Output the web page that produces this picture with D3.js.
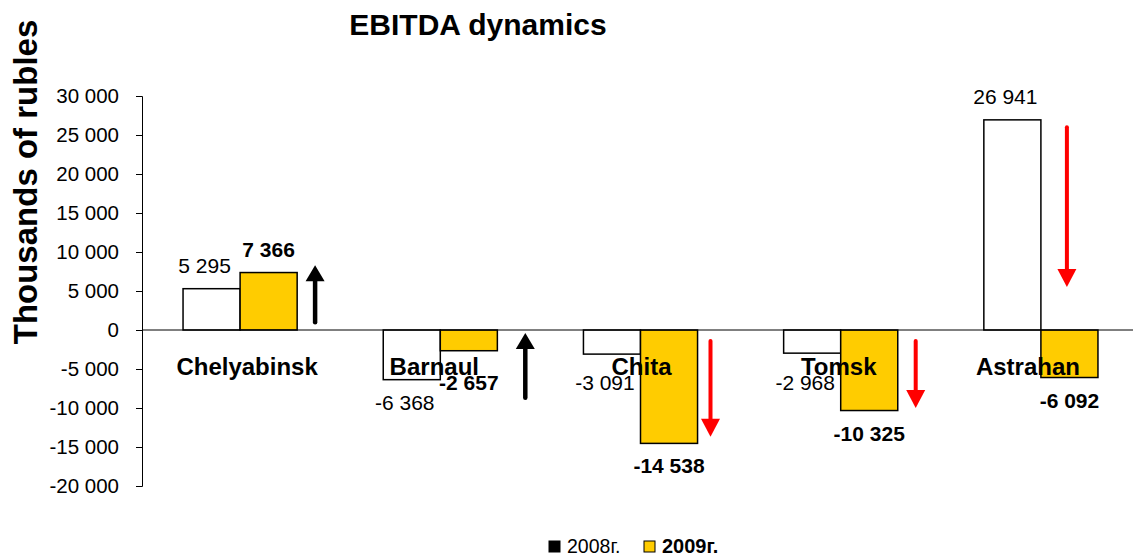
<!DOCTYPE html>
<html><head><meta charset="utf-8">
<script src="https://cdn.jsdelivr.net/npm/d3@7"></script>
<style>body{margin:0;background:#fff}svg{display:block;font-family:"Liberation Sans",Arial,sans-serif}</style>
</head><body><svg id="c" width="1133" height="558"></svg>
<script>
const categories = ["Chelyabinsk","Barnaul","Chita","Tomsk","Astrahan"];
const values2008 = [5295, -6368, -3091, -2968, 26941];
const values2009 = [7366, -2657, -14538, -10325, -6092];
const seriesNames = ["2008г.","2009г."];
const yTicks = [30000,25000,20000,15000,10000,5000,0,-5000,-10000,-15000,-20000];
// change arrows: from / to (thousand rubles), direction colour
const arrowFrom = [1000, -8700, -1400, -1400, 26000];
const arrowTo   = [8300, -400, -13700, -10000, 5500];
const arrowColor = ["#000","#000","#f00","#f00","#f00"];
// layout (pixels, not data)
const arrowDx = [75, 85, 70, 75, 26];
const catLabelDx = [7, -6, 1, -2, -13];

const svg = d3.select("#c");
const W = 1133, H = 558;
const axisX = 142;
const y = d3.scaleLinear().domain([-20000, 30000]).range([486, 96]);
const x0 = d3.scaleBand().domain(categories).range([140, 1141]).paddingInner(0.43).paddingOuter(0.215);
const x1 = d3.scaleBand().domain(seriesNames).range([0, x0.bandwidth()]);
const fmt = v => (v < 0 ? "-" : "") + d3.format(",")(Math.abs(v)).replace(/,/g, " ");

// title
svg.append("text").attr("x", 478).attr("y", 35).attr("text-anchor","middle")
  .attr("font-size", 30).attr("font-weight","bold").text("EBITDA dynamics");
svg.append("text").attr("transform","translate(37,182) rotate(-90)").attr("text-anchor","middle")
  .attr("font-size", 33).attr("font-weight","bold").text("Thousands of rubles");

// axis
const ax = svg.append("g").attr("transform",`translate(${axisX},0)`)
  .call(d3.axisLeft(y).tickValues(yTicks).tickSize(6).tickPadding(17).tickFormat(fmt));
ax.select(".domain").attr("stroke","#000").attr("stroke-width",1);
ax.selectAll(".tick line").attr("stroke","#000");
ax.selectAll(".tick text").attr("font-size",20.5).attr("fill","#000").attr("font-family","Liberation Sans, Arial, sans-serif");

// bars
const data = categories.map((c,i)=>({c, v:[values2008[i], values2009[i]]}));
const fills = ["#fff","#ffcc00"];
const g = svg.append("g");
data.forEach((d,i)=>{
  d.v.forEach((v,j)=>{
    const bx = x0(d.c) + x1(seriesNames[j]);
    g.append("rect").attr("x", bx).attr("width", x1.bandwidth())
      .attr("y", y(Math.max(0,v))).attr("height", Math.abs(y(v)-y(0)))
      .attr("fill", fills[j]).attr("stroke","#000").attr("stroke-width",1.5);
  });
});

// zero line
svg.append("line").attr("x1",axisX).attr("x2",W).attr("y1",y(0)).attr("y2",y(0))
  .attr("stroke","#000").attr("stroke-width",1);

// category labels
svg.append("g").selectAll("text").data(categories).join("text")
  .attr("x", (c,i) => x0(c) + x0.bandwidth()/2 + catLabelDx[i]).attr("y", y(0) + 45)
  .attr("text-anchor","middle").attr("font-size",24).attr("font-weight","bold").text(c=>c);

// value labels
data.forEach((d,i)=>{
  d.v.forEach((v,j)=>{
    const cx = x0(d.c) + x1(seriesNames[j]) + x1.bandwidth()/2 + (j===0 ? -7 : 0);
    const ty = v >= 0 ? y(v) - 16 : Math.max(y(v) + 30, y(0) + 60);
    svg.append("text").attr("x", cx).attr("y", ty).attr("text-anchor","middle")
      .attr("font-size", 21).attr("font-weight", j===0 ? "normal" : "bold")
      .text(fmt(v));
  });
});

// arrows
categories.forEach((c,i)=>{
  const ax_ = x0(c) + x0.bandwidth()/2 + arrowDx[i];
  const yf = y(arrowFrom[i]), yt = y(arrowTo[i]);
  const dir = yt < yf ? -1 : 1;
  const black = arrowColor[i] === "#000";
  const headL = black ? 16 : 18, headW = 9.5;
  svg.append("line").attr("x1",ax_).attr("x2",ax_).attr("y1",yf).attr("y2",yt - dir*headL*0.8)
    .attr("stroke",arrowColor[i]).attr("stroke-width", black ? 4.5 : 4).attr("stroke-linecap","round");
  svg.append("path").attr("d",`M${ax_},${yt} L${ax_-headW},${yt-dir*headL} L${ax_+headW},${yt-dir*headL} Z`)
    .attr("fill",arrowColor[i]);
});

// legend
const lg = svg.append("g");
const lx = [549, 644];
seriesNames.forEach((s,j)=>{
  lg.append("rect").attr("x", lx[j]).attr("y", 541).attr("width", 11).attr("height", 11)
    .attr("fill", j===0 ? "#000" : "#ffcc00").attr("stroke","#000").attr("stroke-width",1);
  lg.append("text").attr("x", lx[j]+18).attr("y", 553).attr("font-size", j===0 ? 19.5 : 20)
    .attr("font-weight", j===0 ? "normal" : "bold").text(s);
});
</script></body></html>
